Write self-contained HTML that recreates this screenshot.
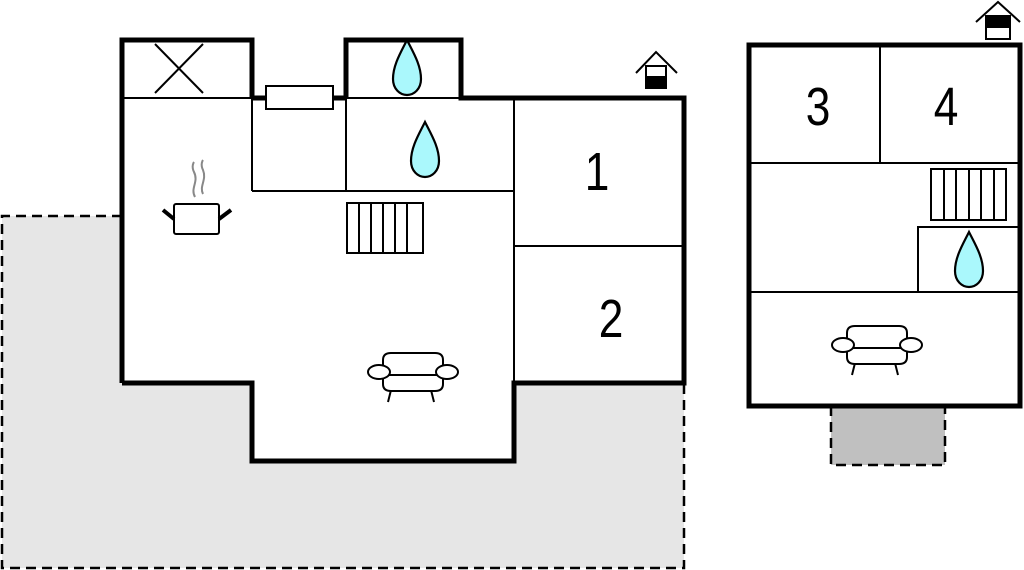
<!DOCTYPE html>
<html><head><meta charset="utf-8"><style>html,body{margin:0;padding:0;background:#fff}svg{display:block}</style></head><body>
<svg width="1024" height="570" viewBox="0 0 1024 570" xmlns="http://www.w3.org/2000/svg">
<defs>
<g id="drop"><path d="M0,-27 C6,-15 14,-2 14,12 C14,22 7,28 0,28 C-7,28 -14,22 -14,12 C-14,-2 -6,-15 0,-27 Z" fill="#aaf8fc" stroke="#000" stroke-width="2.2"/></g>
<g id="sofa" fill="#fff" stroke="#000" stroke-width="2">
<line x1="-22" y1="18" x2="-25" y2="30"/><line x1="18" y1="18" x2="21" y2="30"/>
<path d="M-30,2 L-30,12 Q-30,19 -22,19 L22,19 Q30,19 30,12 L30,2 Z"/>
<path d="M-30,3 L-30,-12 Q-30,-19 -22,-19 L22,-19 Q30,-19 30,-12 L30,3 Z"/>
<line x1="-30" y1="3" x2="30" y2="3"/>
<ellipse cx="-34" cy="0" rx="11" ry="7"/><ellipse cx="34" cy="0" rx="11" ry="7"/>
</g>
</defs>
<rect x="2" y="216" width="682" height="352" fill="#e6e6e6"/>
<path d="M122,216 L2,216 L2,568 L684,568 L684,383" fill="none" stroke="#000" stroke-width="2.5" stroke-dasharray="10,6"/>
<path d="M122,40 L252,40 L252,98 L346,98 L346,40 L461,40 L461,98 L684,98 L684,383 L514,383 L514,461 L252,461 L252,383 L122,383 Z" fill="#fff" stroke="none"/>
<g fill="none" stroke="#000" stroke-width="2">
<line x1="122" y1="98" x2="252" y2="98"/><line x1="346" y1="98" x2="461" y2="98"/>
<line x1="252" y1="98" x2="252" y2="191"/><line x1="346" y1="98" x2="346" y2="191"/>
<line x1="252" y1="191" x2="514" y2="191"/><line x1="514" y1="98" x2="514" y2="383"/>
<line x1="514" y1="246" x2="684" y2="246"/>
<line x1="155" y1="44" x2="203" y2="93"/><line x1="203" y1="44" x2="155" y2="93"/>
</g>
<line x1="252" y1="98" x2="346" y2="98" stroke="#000" stroke-width="5"/>
<rect x="266" y="86" width="67" height="23" fill="#fff" stroke="#000" stroke-width="2"/>
<g fill="none" stroke="#000" stroke-width="5" stroke-linejoin="miter">
<path d="M122,383 L122,40 L252,40 L252,98"/>
<path d="M346,98 L346,40 L461,40 L461,98 L684,98 L684,383 L514,383 L514,461 L252,461 L252,383 L122,383"/>
</g>
<use href="#drop" x="407" y="67"/>
<use href="#drop" x="425" y="149"/>
<g fill="#fff" stroke="#000" stroke-width="2">
<rect x="347" y="203" width="76" height="50"/>
<line x1="359" y1="203" x2="359" y2="253"/><line x1="371" y1="203" x2="371" y2="253"/><line x1="383" y1="203" x2="383" y2="253"/><line x1="395" y1="203" x2="395" y2="253"/><line x1="407" y1="203" x2="407" y2="253"/>
</g>
<g stroke="#000" fill="#fff">
<path d="M195,197 C190,188 199,182 194,172 C191,166 194,162 194,162 M203,194 C199,186 207,180 203,170 C200,164 203,160 203,160" stroke="#888" stroke-width="2" fill="none"/>
<rect x="174" y="204" width="45" height="30" rx="2" stroke-width="2"/>
<line x1="163" y1="210" x2="174" y2="219" stroke-width="4"/><line x1="231" y1="210" x2="219" y2="219" stroke-width="4"/>
</g>
<use href="#sofa" x="413" y="372"/>
<g stroke="#000" stroke-width="2" fill="none">
<path d="M636,73 L656,52 L677,73"/>
<rect x="646" y="66" width="20" height="22" fill="#fff"/>
<rect x="646" y="77" width="20" height="11" fill="#000"/>
</g>
<g font-family="Liberation Sans, sans-serif" font-size="54" text-anchor="middle" fill="#000">
<text transform="translate(597,190) scale(0.82,1)">1</text>
<text transform="translate(611,337) scale(0.82,1)">2</text>
<text transform="translate(818,125) scale(0.82,1)">3</text>
<text transform="translate(946,125) scale(0.82,1)">4</text>
</g>
<rect x="831" y="406" width="114" height="59" fill="#c0c0c0" stroke="#000" stroke-width="2.5" stroke-dasharray="10,6"/>
<g fill="none" stroke="#000" stroke-width="2">
<line x1="749" y1="163" x2="1020" y2="163"/><line x1="880" y1="45" x2="880" y2="163"/>
<line x1="749" y1="292" x2="1020" y2="292"/>
<path d="M918,292 L918,227 L1020,227"/>
</g>
<rect x="749" y="45" width="271" height="361" fill="none" stroke="#000" stroke-width="5"/>
<g fill="#fff" stroke="#000" stroke-width="2">
<rect x="931" y="169" width="75" height="51"/>
<line x1="944" y1="169" x2="944" y2="220"/><line x1="956" y1="169" x2="956" y2="220"/><line x1="969" y1="169" x2="969" y2="220"/><line x1="981" y1="169" x2="981" y2="220"/><line x1="994" y1="169" x2="994" y2="220"/>
</g>
<use href="#drop" x="969" y="259"/>
<use href="#sofa" x="877" y="345"/>
<g stroke="#000" stroke-width="2" fill="none">
<path d="M976,22 L998,2 L1020,22"/>
<rect x="986" y="16" width="24" height="23" fill="#fff"/>
<rect x="986" y="16" width="24" height="11" fill="#000"/>
</g>
</svg>
</body></html>
